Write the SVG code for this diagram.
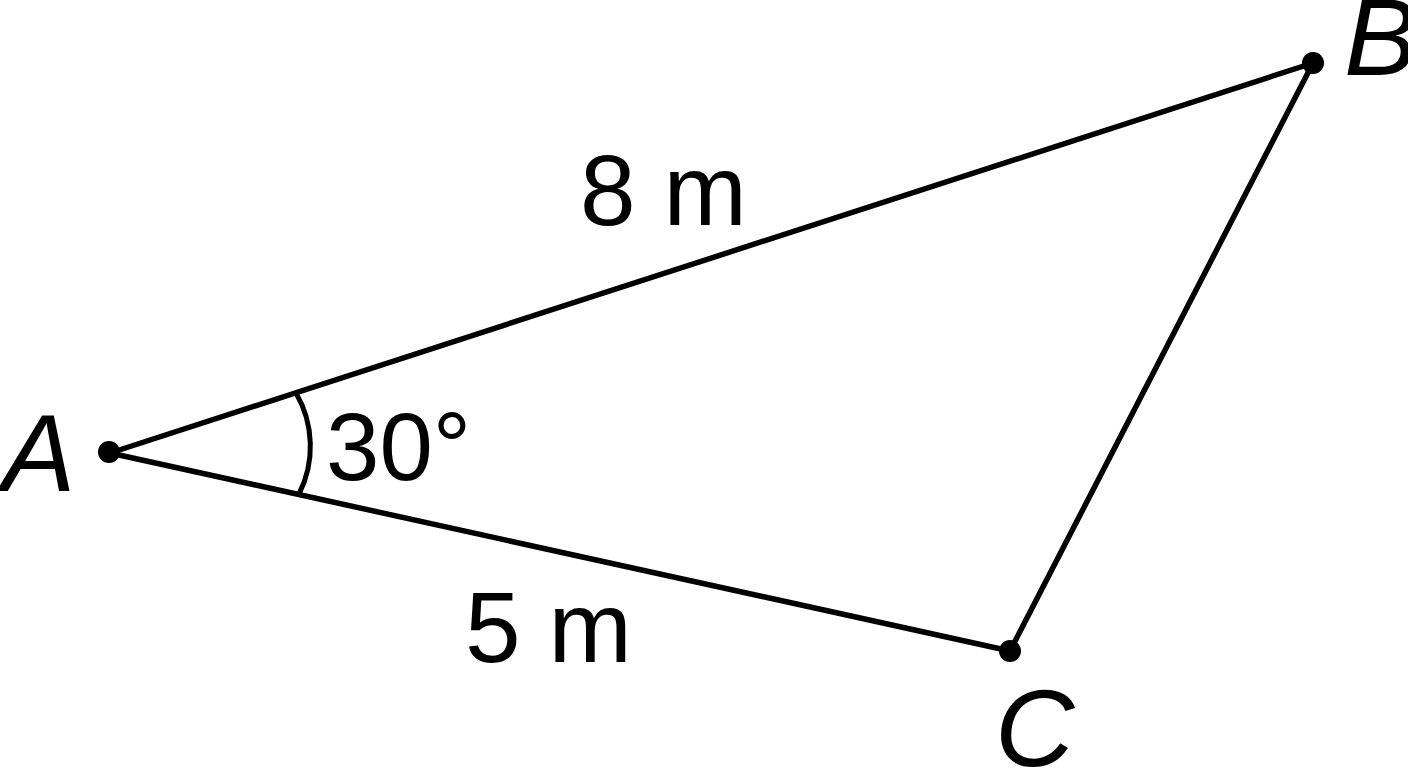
<svg xmlns="http://www.w3.org/2000/svg" width="1408" height="768" viewBox="0 0 1408 768">
<style>
.edge{stroke:#000;stroke-width:5.5;fill:none;stroke-linecap:round}
.arc{stroke:#000;stroke-width:5;fill:none}
.dot{fill:#000}
.lbl{font-family:"Liberation Sans",Arial,sans-serif;fill:#000}
.pt{font-style:italic;font-size:110px}
.len{font-size:100px}
</style>
<rect width="1408" height="768" fill="#fff"/>
<g id="connectors">
<line class="edge" x1="110" y1="453" x2="1313" y2="63"/>
<line class="edge" x1="110" y1="453" x2="1010" y2="651"/>
<line class="edge" x1="1313" y1="63" x2="1010" y2="651"/>
<path class="arc" d="M296 393 A106 106 0 0 1 299 494"/>
</g>
<g id="A"><circle class="dot" cx="109" cy="452" r="11"/><text class="lbl pt" x="2" y="491">A</text></g>
<g id="B"><circle class="dot" cx="1313" cy="63" r="11"/><text class="lbl pt" x="1344" y="75">B</text></g>
<g id="C"><circle class="dot" cx="1010" cy="651" r="11"/><text class="lbl pt" x="995" y="766">C</text></g>
<g id="labels">
<text class="lbl len" x="580" y="225">8 m</text>
<text class="lbl len" x="465" y="662">5 m</text>
<text class="lbl len" x="326" y="480" style="font-size:96px">30°</text>
</g>
</svg>
